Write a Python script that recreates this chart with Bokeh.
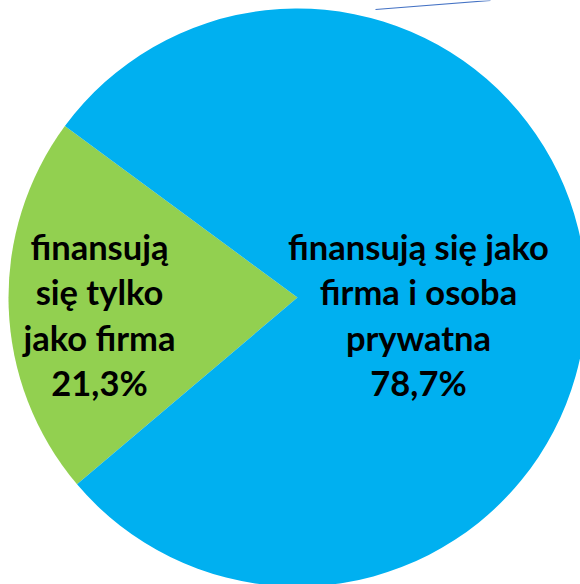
import math
from bokeh.plotting import figure
from bokeh.models import Range1d, ColumnDataSource
from bokeh.core.properties import value
from bokeh.embed import file_html
from bokeh.resources import INLINE

labels = ["finansują\nsię tylko\njako firma", "finansują się jako\nfirma i osoba\nprywatna"]
shares = [21.3, 78.7]
colors = ["#92D050", "#00B0F0"]
label_r = [0.685, 0.419]

W, H = 580, 584
cx, cy, R = 297, 287, 289

p = figure(width=W, height=H, output_backend="svg", toolbar_location=None,
           x_range=Range1d(0, W), y_range=Range1d(0, H), min_border=0)
p.axis.visible = False
p.grid.visible = False
p.outline_line_color = None
p.background_fill_color = "white"

total = sum(shares)
start = math.radians(143.6)  # first (green) slice starts here, counter-clockwise
starts, ends, mids = [], [], []
a = start
for s in shares:
    e = a + s / total * 2 * math.pi
    starts.append(a); ends.append(e); mids.append((a + e) / 2)
    a = e

src = ColumnDataSource(dict(start=starts, end=ends, color=colors))
p.wedge(x=cx, y=cy, radius=R, start_angle="start", end_angle="end",
        fill_color="color", line_color=None, source=src)

texts = [f"{l}\n{str(s).replace('.', ',')}%" for l, s in zip(labels, shares)]
lx = [cx - 198, cx + 121]
ly = [cy - 17, cy - 17]
p.text(x=lx, y=ly, text=texts, text_align="center", text_baseline="middle",
       text_font=value("Lato"), text_font_style="bold", text_font_size="34.5px",
       text_line_height=1.1, text_color="black")

# thin leader line remnant at the top
p.segment(x0=[375], y0=[575], x1=[490], y1=[584], line_color="#4472C4", line_width=1.2)

open("out.html", "w").write(file_html(p, INLINE))
